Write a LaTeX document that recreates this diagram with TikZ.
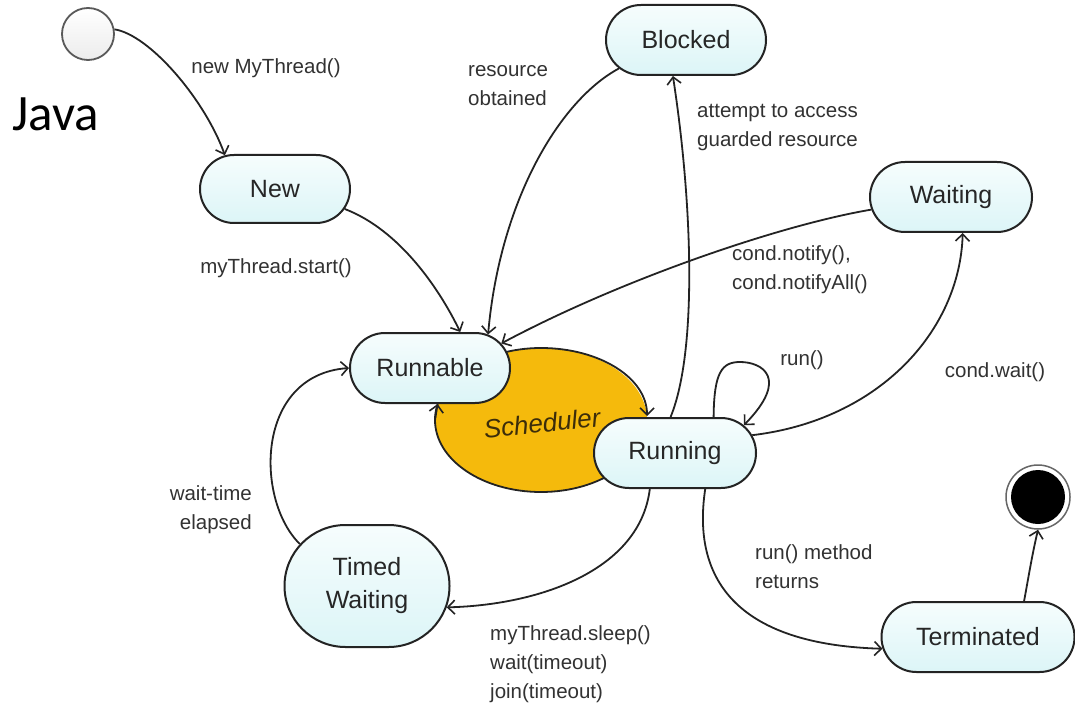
\documentclass[tikz,border=0pt]{standalone}
\usepackage{fontspec}
\setmainfont{Liberation Sans}
\newfontfamily\javafont{Carlito}
\usetikzlibrary{shapes.misc,shapes.geometric,arrows.meta}
\definecolor{nodetop}{RGB}{246,253,253}
\definecolor{nodebot}{RGB}{220,245,247}
\definecolor{schedfill}{RGB}{245,186,12}
\definecolor{edgecol}{RGB}{35,35,35}
\definecolor{labelcol}{RGB}{50,50,50}
\definecolor{schedtext}{RGB}{60,45,10}
\begin{document}
\begin{tikzpicture}[x=1pt,y=-1pt,
  state/.style={rounded rectangle, draw=edgecol, line width=2pt, top color=nodetop, bottom color=nodebot,
    inner sep=0pt, font=\fontsize{25}{30}\selectfont, text=black!85, align=center},
  conn/.style={draw=edgecol, line width=1.8pt, -{Straight Barb[length=7pt,width=14pt,line width=1.6pt]}},
  lbl/.style={font=\fontsize{20.5}{29}\selectfont, text=labelcol, inner sep=0pt},
]
\useasboundingbox (0,0) rectangle (1075,711);
\fill[white] (0,0) rectangle (1075,711);

% scheduler
\node[ellipse, fill=schedfill, minimum width=212pt, minimum height=144pt, inner sep=0pt, outer sep=0pt] (sched) at (541,420) {};
\coordinate (schedin) at (647,416);
\coordinate (schedout) at (437.6,404);
\draw[conn] (sched.west) .. controls (435,380.2) and (482.5,348) .. (sched.north)
  .. controls (599.5,348) and (647,378) .. (schedin);
\draw[conn] (sched.east) .. controls (647,459.8) and (599.5,492) .. (sched.south)
  .. controls (482.5,492) and (435,459.8) .. (sched.west) -- (schedout);
\node[font=\itshape\fontsize{26}{30}\selectfont, text=schedtext, rotate=6] (schedlbl) at (542,423) {Scheduler};

% states
\node[circle, draw=gray!70!black, line width=1.8pt, top color=white, bottom color=gray!15, minimum size=52pt, inner sep=0pt] (init) at (88,34) {};
\node[state, minimum width=150pt, minimum height=68pt] (new) at (275,189) {New};
\node[state, minimum width=160pt, minimum height=70pt] (blocked) at (686,40) {Blocked};
\node[state, minimum width=162pt, minimum height=70pt] (waiting) at (951,197) {Waiting};
\node[state, minimum width=160pt, minimum height=70pt] (runnable) at (430,368) {Runnable};
\node[state, minimum width=162pt, minimum height=70pt] (running) at (675,453) {Running};
\node[state, minimum width=165pt, minimum height=122pt, font=\fontsize{25}{33}\selectfont] (timed) at (367,586) {Timed\\Waiting};
\node[state, minimum width=193pt, minimum height=70pt] (term) at (978,637) {Terminated};
\node[circle, draw=gray!80!black, line width=1.5pt, fill=white, minimum size=64pt, inner sep=0pt] (final) at (1038,497) {};
\node[circle, fill=black, minimum size=54pt, inner sep=0pt] (finaldot) at (1038,497) {};

% connectors
\draw[conn] (init.10) .. controls (150,35) and (205,100) .. (new.146);
\draw[conn] (new.-16) .. controls (400,230) and (440,290) .. (runnable.50);
\draw[conn] (blocked.203) .. controls (560,100) and (500,200) .. (runnable.30);
\draw[conn] (running.97) .. controls (698,350) and (692,200) .. (blocked.-110);
\draw[conn] (waiting.189) .. controls (780,225) and (620,280) .. (runnable.19);
\draw[conn] (running.13) .. controls (880,420) and (960,330) .. (waiting.-72);
\draw[conn] (running.43) .. controls (714,372) and (722,362) .. (740,362)
  .. controls (762,362) and (790,378) .. (running.22);
\draw[conn] (running.-125) .. controls (640,570) and (540,605) .. (timed.-15);
\draw[conn] (timed.148) .. controls (255,500) and (255,375) .. (runnable.west);
\draw[conn] (running.-50) .. controls (690,590) and (750,645) .. (term.187);
\draw[conn] (term.38) .. controls (1028,580) and (1032,555) .. (final.-90);

% labels
\node[font=\javafont\fontsize{51}{55}\selectfont, text=black, anchor=west, inner sep=0pt] (java) at (12,114) {Java};
\node[lbl] (lnew) at (266,68) {new MyThread()};
\node[lbl] (lstart) at (276,268) {myThread.start()};
\node[lbl, anchor=west, align=left] (lres) at (468,86) {resource\\obtained};
\node[lbl, anchor=west, align=left] (latt) at (697,128) {attempt to access\\guarded resource};
\node[lbl, anchor=west, align=left] (lnot) at (732,270) {cond.notify(),\\cond.notifyAll()};
\node[lbl] (lrun) at (802,360) {run()};
\node[lbl] (lwait) at (995,372) {cond.wait()};
\node[lbl, anchor=east, align=right] (lelap) at (252,510) {wait-time\\elapsed};
\node[lbl, anchor=west, align=left] (lsleep) at (490,664) {myThread.sleep()\\wait(timeout)\\join(timeout)};
\node[lbl, anchor=west, align=left] (lret) at (755,567) {run() method\\returns};
\end{tikzpicture}
\end{document}
